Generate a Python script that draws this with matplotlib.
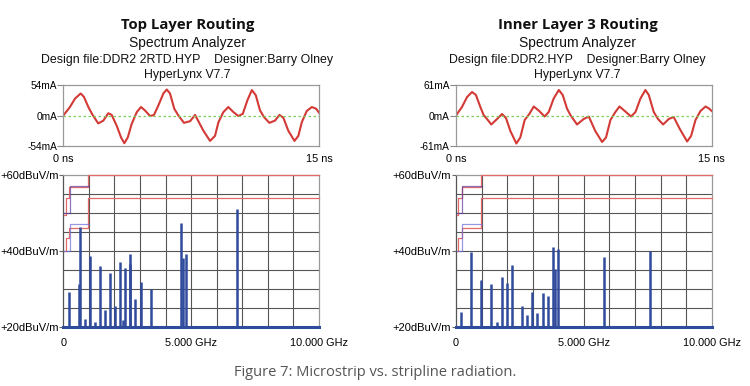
import matplotlib
matplotlib.use("Agg")
import matplotlib.pyplot as plt

W, H = 750, 386

# ---------------- data ----------------
titles = ["Top Layer Routing", "Inner Layer 3 Routing"]
design_lines = ["Design file:DDR2 2RTD.HYP    Designer:Barry Olney",
                "Design file:DDR2.HYP    Designer:Barry Olney"]
current_limits = [54, 61]

# waveform (time ns, current mA)
left_t = [0.0, 0.39, 0.69, 1.02, 1.21, 1.47, 1.70, 2.05, 2.35, 2.64, 2.84, 3.13, 3.39, 3.58,
          3.78, 4.01, 4.31, 4.56, 4.79, 5.09, 5.32, 5.58, 5.87, 6.07, 6.26, 6.51, 6.75, 7.08,
          7.44, 7.73, 8.22, 8.61, 8.90, 9.10, 9.39, 9.68, 9.98, 10.27, 10.53, 10.80, 11.06,
          11.29, 11.54, 11.78, 12.09, 12.42, 12.68, 12.91, 13.20, 13.56, 13.79, 13.99, 14.28,
          14.58, 14.83, 15.0]
left_i = [0, 15, 30, 39, 33, 15, 2, -14, -9, 4, 1, -18, -39, -49,
          -39, -15, 6, 15, 9, -1, 1, 18, 39, 46, 39, 12, 0, -13,
          -10, 1, -27, -45, -36, -12, 6, 15, 6, -1, 3, 27, 45,
          36, 9, -3, -13, -9, 1, -4, -27, -45, -36, -12, 8,
          15, 12, 5]

right_t = [0.0, 0.35, 0.65, 0.94, 1.17, 1.43, 1.62, 1.82, 2.07, 2.41, 2.70, 2.93, 3.19, 3.54,
           3.77, 4.03, 4.30, 4.56, 4.85, 5.20, 5.44, 5.73, 6.03, 6.26, 6.51, 6.71, 7.10, 7.49,
           7.79, 8.17, 8.57, 8.80, 9.06, 9.35, 9.59, 9.90, 10.27, 10.53, 10.82, 11.11, 11.31,
           11.60, 11.85, 12.15, 12.48, 12.77, 13.13, 13.56, 13.79, 14.05, 14.34, 14.64, 14.84,
           15.0]
right_i = [0, 17, 37, 47, 41, 17, 1, -7, -18, -7, 3, -5, -31, -56,
           -44, -9, 3, 18, 10, -2, 7, 34, 51, 41, 14, 1, -18, -7,
           -2, -31, -53, -44, -9, 7, 18, 9, -2, 7, 34, 51, 41,
           7, -7, -18, -7, -3, -27, -52, -41, -9, 9, 18, 14,
           9]

# spectrum lines (GHz, dBuV/m)
left_f = [0.22, 0.60, 0.64, 0.84, 1.03, 1.23, 1.42, 1.62, 1.83, 2.02, 2.22, 2.32, 2.43,
          2.59, 2.62, 2.82, 3.03, 3.42, 4.60, 4.70, 4.80, 6.80]
left_db = [29.3, 31.4, 46.3, 22.1, 38.8, 21.5, 36.1, 24.5, 34.2, 25.6, 37.1, 21.9, 35.7,
           36.5, 39.2, 27.5, 31.8, 30.1, 47.5, 38.1, 39.2, 51.2]

right_f = [0.20, 0.59, 0.98, 1.38, 1.59, 1.79, 1.98, 2.19, 2.59, 2.79, 2.98, 3.18, 3.39,
           3.59, 3.79, 3.87, 3.99, 5.78, 7.59]
right_db = [23.9, 39.7, 32.4, 31.4, 21.3, 33.1, 31.7, 36.4, 25.7, 23.2, 29.2, 23.7, 28.9,
            28.2, 41.0, 35.2, 40.5, 38.4, 40.0]

# limit lines (step edges GHz, level dBuV/m)
fcc_f = [0.03, 0.088, 0.216, 0.96, 10.0]
fcc_b = [40, 43.5, 46, 54, 54]
fcc_a = [49.5, 54, 56.9, 60, 60]
cispr_f = [0.03, 0.25, 1.0]
cispr_b = [40, 47, 47]
cispr_a = [50, 57, 57]

db_ticks = [20, 40, 60]
db_labels = ["+20dBuV/m", "+40dBuV/m", "+60dBuV/m"]
ghz_ticks = [0, 5, 10]
ghz_labels = ["0", "5.000 GHz", "10.000 GHz"]

# ---------------- figure ----------------
fig = plt.figure(figsize=(W / 100, H / 100), dpi=100)
fig.patch.set_facecolor("white")

def fx(px):
    return px / W

def fy(py):
    return 1 - py / H

SANS = "Liberation Sans"
BLUE = "#2f4b9c"
RED = "#d33a36"

panels = [
    dict(x0=63.3, x1=319.0, cx=187.5, title=titles[0], design=design_lines[0], lim=current_limits[0],
         t=left_t, i=left_i, f=left_f, db=left_db),
    dict(x0=456.0, x1=711.7, cx=577.5, title=titles[1], design=design_lines[1], lim=current_limits[1],
         t=right_t, i=right_i, f=right_f, db=right_db),
]

for p in panels:
    cx = p["cx"]
    fig.text(fx(cx), fy(25), p["title"], ha="center", va="center",
             fontsize=10.7, fontweight="bold", family="Open Sans", color="#111111")
    fig.text(fx(cx), fy(43), "Spectrum Analyzer", ha="center", va="center",
             fontsize=10, family=SANS, color="#111111")
    fig.text(fx(cx), fy(60.5), p["design"], ha="center", va="center",
             fontsize=8.9, family=SANS, color="#111111")
    fig.text(fx(cx), fy(75), "HyperLynx V7.7", ha="center", va="center",
             fontsize=8.8, family=SANS, color="#111111")

    # --- waveform axes ---
    ax = fig.add_axes([fx(p["x0"]), fy(146), fx(p["x1"]) - fx(p["x0"]), fy(85) - fy(146)])
    ax.plot(p["t"], p["i"], color=RED, lw=1.5, solid_joinstyle="round")
    ax.axhline(0, color="#7ccf5a", lw=0.9, ls=(0, (2, 2)))
    ax.set_xlim(0, 15)
    ax.set_ylim(-p["lim"], p["lim"])
    lim = p["lim"]
    ax.set_yticks([-lim, 0, lim])
    ax.set_yticklabels([f"-{lim}mA", "0mA", f"{lim}mA"], family=SANS, fontsize=7.3)
    ax.set_xticks([0, 15])
    ax.set_xticklabels(["0 ns", "15 ns"], family=SANS, fontsize=7.8)
    ax.tick_params(axis="y", direction="out", length=4, width=0.8, color="#888888", pad=0.5)
    ax.tick_params(axis="x", length=0, pad=6)
    for s in ax.spines.values():
        s.set_color("#999999")
        s.set_linewidth(0.9)

    # --- spectrum axes ---
    sx = fig.add_axes([fx(p["x0"]), fy(327.3), fx(p["x1"]) - fx(p["x0"]), fy(175) - fy(327.3)])
    sx.set_xlim(0, 10)
    sx.set_ylim(20, 60)
    for g in range(1, 10):
        sx.axvline(g, color="#555555", lw=0.8, zorder=1)
    for g in range(25, 60, 5):
        sx.axhline(g, color="#555555", lw=0.8, zorder=1)
    sx.step(fcc_f, fcc_b, where="post", color="#e46a6a", lw=0.9, zorder=3, clip_on=False)
    sx.step(fcc_f, fcc_a, where="post", color="#e46a6a", lw=0.9, zorder=3, clip_on=False)
    sx.step(cispr_f, cispr_b, where="post", color="#6b6bd8", lw=0.9, alpha=0.7, zorder=4)
    sx.step(cispr_f, cispr_a, where="post", color="#5a3a9a", lw=0.9, alpha=0.7, zorder=4)
    sx.vlines(p["f"], 20, p["db"], color=BLUE, lw=1.8, zorder=5)
    sx.axhline(20, color=BLUE, lw=2.2, zorder=6, clip_on=False)
    sx.set_yticks(db_ticks)
    sx.set_yticklabels(db_labels, family=SANS, fontsize=8)
    sx.set_xticks(ghz_ticks)
    sx.set_xticklabels(ghz_labels, family=SANS, fontsize=7.8)
    sx.tick_params(axis="y", direction="out", length=3, width=0.8, color="#666666", pad=0.5)
    sx.tick_params(axis="x", length=0, pad=8)
    for s in sx.spines.values():
        s.set_color("#999999")
        s.set_linewidth(0.9)
    sx.spines["left"].set_color("#555555")

fig.text(0.5, fy(373), "Figure 7: Microstrip vs. stripline radiation.", ha="center", va="center",
         fontsize=10.5, family="Open Sans", color="#555555")

fig.savefig("out.png", dpi=100)
